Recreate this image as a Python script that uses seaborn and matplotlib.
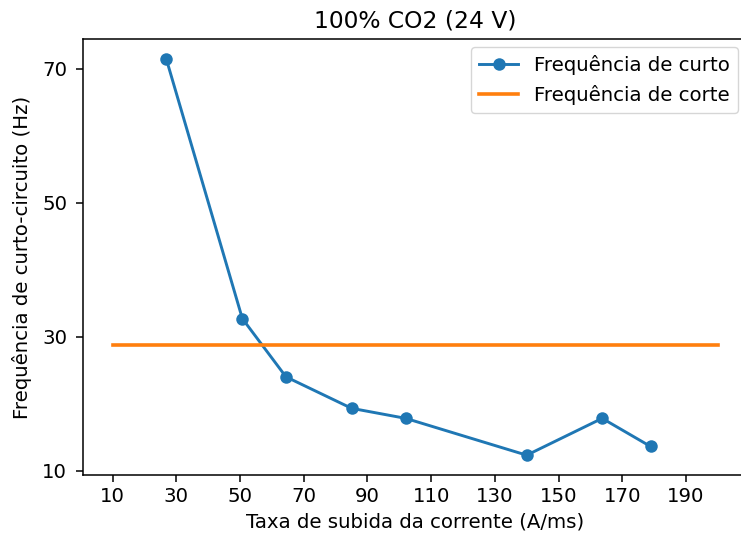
import matplotlib
matplotlib.use("Agg")
import matplotlib.pyplot as plt
import seaborn as sns
import pandas as pd

# Data
taxa = [26.8, 50.7, 64.4, 85.0, 102.0, 140.0, 163.7, 178.9]
freq_curto = [71.5, 32.7, 24.0, 19.3, 17.8, 12.3, 17.8, 13.6]
corte_x = [10, 200]
corte_y = [28.7, 28.7]
xticks = [10, 30, 50, 70, 90, 110, 130, 150, 170, 190]
yticks = [10, 30, 50, 70]

df_curto = pd.DataFrame({"x": taxa, "y": freq_curto})
df_corte = pd.DataFrame({"x": corte_x, "y": corte_y})

plt.rcParams['font.family'] = ['DejaVu Sans']
fs = 14.2

fig = plt.figure(figsize=(7.41, 5.41), dpi=100)
W, H = 741, 541
left, right, top, bottom = 82.5, 748, 39, 475
ax = fig.add_axes([left / W, 1 - bottom / H, (right - left) / W, (bottom - top) / H])

sns.lineplot(data=df_curto, x="x", y="y", ax=ax, color="#1f77b4", marker="o",
             markersize=9, markeredgewidth=0, linewidth=2.1, label="Frequência de curto")
sns.lineplot(data=df_corte, x="x", y="y", ax=ax, color="#ff7f0e",
             linewidth=2.6, label="Frequência de corte")

ax.set_xticks(xticks)
ax.set_yticks(yticks)
ax.margins(x=0.05, y=0.05)
ax.tick_params(labelsize=fs, length=5, width=1.1)
ax.tick_params(axis="y", pad=6)
for s in ax.spines.values():
    s.set_linewidth(1.1)
ax.spines["right"].set_visible(False)  # lies just outside the cropped picture
ax.set_title("100% CO2 (24 V)", fontsize=16.8, pad=8)
ax.set_xlabel("Taxa de subida da corrente (A/ms)", fontsize=fs, labelpad=5)
ax.set_ylabel("Frequência de curto-circuito (Hz)", fontsize=fs, labelpad=7)
ax.legend(loc="upper right", fontsize=fs, framealpha=0.8,
          bbox_to_anchor=(738 / W, 1 - 47 / H), bbox_transform=fig.transFigure,
          borderaxespad=0)

fig.savefig("out.png", dpi=100)
